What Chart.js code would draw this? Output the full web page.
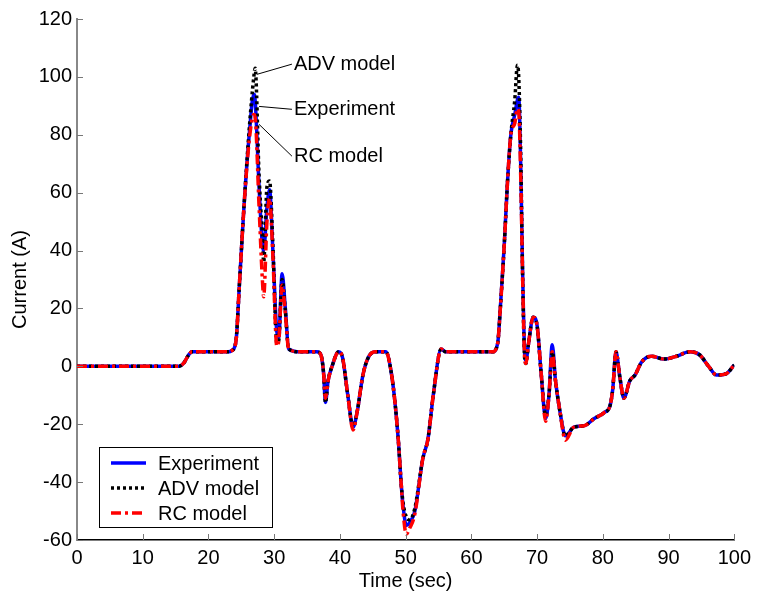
<!DOCTYPE html>
<html>
<head>
<meta charset="utf-8">
<script src="https://cdn.jsdelivr.net/npm/chart.js@4.4.0/dist/chart.umd.min.js"></script>
<style>
html,body{margin:0;padding:0;background:#fff;}
#wrap{position:relative;width:757px;height:598px;}
</style>
</head>
<body>
<div id="wrap"><canvas id="c" width="757" height="598"></canvas></div>
<script>
const times = [0,10,15.5,16.2,17.0,17.5,20,23.0,23.6,24.2,24.7,25.4,26.2,26.9,27.1,27.7,28.2,28.4,28.9,29.3,29.8,30.4,30.7,31.2,31.7,32.2,34,36.5,37.1,37.5,37.8,38.2,38.8,39.8,40.4,41.2,42.0,42.6,43.5,44.3,45.4,47.0,47.8,48.4,48.9,49.3,49.6,50.1,50.6,51.4,52.6,53.4,54.2,55.4,56.1,60,63.2,64.0,64.4,65.0,65.5,66.0,66.6,67.0,67.2,67.5,67.8,68.1,68.3,68.7,69.4,70.0,70.6,71.3,71.8,72.3,72.8,73.5,74.3,75.6,77.2,78.7,80.2,81.1,81.5,82.0,82.6,83.2,84.1,84.9,85.9,87.4,89.3,91.2,93.2,94.7,96.1,97.3,98.8,100];

const experiment = [0,0,0,1,4,5,5,5,5.5,9,28,55,80,94,92,62,42,40,55,61,40,12,10,32,20,6,5,5,4,-2,-12.5,-5,0,5,3,-10,-21,-16,-3,3,5,5,-2,-13,-26,-40,-48,-55,-54,-50,-32,-25,-10,6,5,5,5,8,20,42,64,80,87,92,93,70,32,5,2,8,17,14,-2,-18,-10,7.5,-5,-16,-24,-21,-20.5,-18,-16,-13.5,-8,5,-4,-11,-5,-3,1.5,3.5,2.5,3.5,5,4,0,-3,-2.5,0.5];

const advModel = [0,0,0,1,4,5,5,5,5.5,9,28,55,82,100,103,66,45,36,62,64,42,8,9,30,19,6,5,5,4,-2,-12.5,-5,0,5,3,-10,-21,-16,-3,3,5,5,-2,-13,-26,-40,-47,-52,-53,-49,-32,-25,-10,6,5,5,5,8,20,42,64,80,92,104,100,74,30,3,1,8,17,14,-2,-17,-10,5,-5,-16,-24,-21,-20.5,-18,-16,-13.5,-8,5,-4,-11,-5,-3,1.5,3.5,2.5,3.5,5,4,0,-3,-2.5,0.5];

const rcModel = [0,0,0,1,4,5,5,5,5.5,9,28,55,78,87,86,55,30,24,50,58,38,7,9,28,18,6,5,5,4,-2,-11,-5,0,5,3,-10,-22,-16,-3,3,5,5,-2,-13,-26,-40,-50,-58,-56,-51,-32,-25,-10,6,5,5,5,8,20,42,64,80,84,89,88,66,30,3,1,8,17,14,-2,-19,-10,5,-5,-16,-25.5,-21,-20.5,-18,-16,-13.5,-8,5,-4,-11,-5,-3,1.5,3.5,2.5,3.5,5,4,0,-3,-2.5,0.5];

const seriesNames = ['Experiment','ADV model','RC model'];
const xTicks = [0,10,20,30,40,50,60,70,80,90,100];
const yTicks = [-60,-40,-20,0,20,40,60,80,100,120];

// annotation labels: [text, line start (t, I), text anchor (t, I)]
const annLabels = ['ADV model','Experiment','RC model'];
const annFrom = [[27.4,100.9],[27.7,89.8],[27.7,83.6]];
const annTo = [[32.7,104.4],[32.7,88.8],[32.7,72.6]];

const FONT = '"Liberation Sans", Arial, sans-serif';
const pts = arr => times.map((t,i)=>({x:t,y:arr[i]}));

const tickPlugin = {
  id:'inwardTicks',
  afterDatasetsDraw(chart){
    const {ctx, chartArea:a, scales:{x,y}} = chart;
    ctx.save();
    ctx.strokeStyle = '#777';
    ctx.lineWidth = 1;
    xTicks.forEach(v=>{
      const px = Math.round(x.getPixelForValue(v))+0.5;
      ctx.beginPath(); ctx.moveTo(px,a.bottom); ctx.lineTo(px,a.bottom-6); ctx.stroke();
    });
    yTicks.forEach(v=>{
      const py = Math.round(y.getPixelForValue(v))+0.5;
      ctx.beginPath(); ctx.moveTo(a.left,py); ctx.lineTo(a.left+6,py); ctx.stroke();
    });
    ctx.restore();
  }
};

const annPlugin = {
  id:'annotations',
  afterDatasetsDraw(chart){
    const {ctx, scales:{x,y}} = chart;
    ctx.save();
    ctx.strokeStyle = '#000';
    ctx.lineWidth = 1;
    ctx.fillStyle = '#000';
    ctx.font = '20px ' + FONT;
    ctx.textBaseline = 'middle';
    ctx.textAlign = 'left';
    annLabels.forEach((lab,i)=>{
      const x0 = x.getPixelForValue(annFrom[i][0]), y0 = y.getPixelForValue(annFrom[i][1]);
      const x1 = x.getPixelForValue(annTo[i][0]), y1 = y.getPixelForValue(annTo[i][1]);
      ctx.beginPath(); ctx.moveTo(x0,y0); ctx.lineTo(x1,y1); ctx.stroke();
      ctx.fillText(lab, x1+2, y1);
    });
    ctx.restore();
  }
};

const legendPlugin = {
  id:'boxLegend',
  afterDraw(chart){
    const {ctx} = chart;
    const ds = chart.data.datasets;
    const bx = 99, by = 447, bw = 173, bh = 80;
    ctx.save();
    ctx.fillStyle = '#fff';
    ctx.fillRect(bx,by,bw,bh);
    ctx.strokeStyle = '#000';
    ctx.lineWidth = 1;
    ctx.strokeRect(bx+0.5,by+0.5,bw,bh);
    const rows = [463,488,513];
    ctx.font = '20px ' + FONT;
    ctx.textBaseline = 'middle';
    ds.forEach((d,i)=>{
      ctx.strokeStyle = d.borderColor;
      ctx.lineWidth = d.borderWidth;
      ctx.setLineDash(d.borderDash || []);
      ctx.beginPath(); ctx.moveTo(111,rows[i]); ctx.lineTo(146,rows[i]); ctx.stroke();
      ctx.setLineDash([]);
      ctx.fillStyle = '#000';
      ctx.fillText(d.label, 158, rows[i]+1);
    });
    ctx.restore();
  }
};

new Chart(document.getElementById('c'), {
  type:'line',
  data:{
    datasets:[
      {label:seriesNames[0], data:pts(experiment), order:3, borderColor:'#0000ff', borderWidth:3.5, pointRadius:0, cubicInterpolationMode:'monotone', fill:false},
      {label:seriesNames[1], data:pts(advModel), order:2, borderColor:'#000000', borderWidth:3.5, borderDash:[3,3], pointRadius:0, cubicInterpolationMode:'monotone', fill:false},
      {label:seriesNames[2], data:pts(rcModel), order:1, borderColor:'#ff0000', borderWidth:3.5, borderDash:[10,4,3,4], pointRadius:0, cubicInterpolationMode:'monotone', fill:false}
    ]
  },
  options:{
    responsive:false,
    animation:false,
    devicePixelRatio:1,
    layout:{padding:{top:19,right:19,left:8,bottom:0}},
    plugins:{legend:{display:false}, tooltip:{enabled:false}},
    scales:{
      x:{
        type:'linear', min:0, max:100,
        afterBuildTicks(s){ s.ticks = xTicks.map(v=>({value:v})); },
        afterFit(s){ s.height = 58; },
        grid:{display:false, drawTicks:false},
        border:{display:true, color:'#000', width:1.5},
        ticks:{color:'#000', font:{family:FONT, size:20}, padding:6, maxRotation:0},
        title:{display:true, text:'Time (sec)', color:'#000', font:{family:FONT, size:20}, padding:{top:0,bottom:5}}
      },
      y:{
        type:'linear', min:-60, max:120,
        afterBuildTicks(s){ s.ticks = yTicks.map(v=>({value:v})); },
        afterFit(s){ s.width = 69; },
        grid:{display:false, drawTicks:false},
        border:{display:true, color:'#888', width:2},
        ticks:{color:'#000', font:{family:FONT, size:20}, padding:5},
        title:{display:true, text:'Current (A)', color:'#000', font:{family:FONT, size:20}, padding:{top:0,bottom:0}}
      }
    }
  },
  plugins:[tickPlugin, annPlugin, legendPlugin]
});
</script>
</body>
</html>
